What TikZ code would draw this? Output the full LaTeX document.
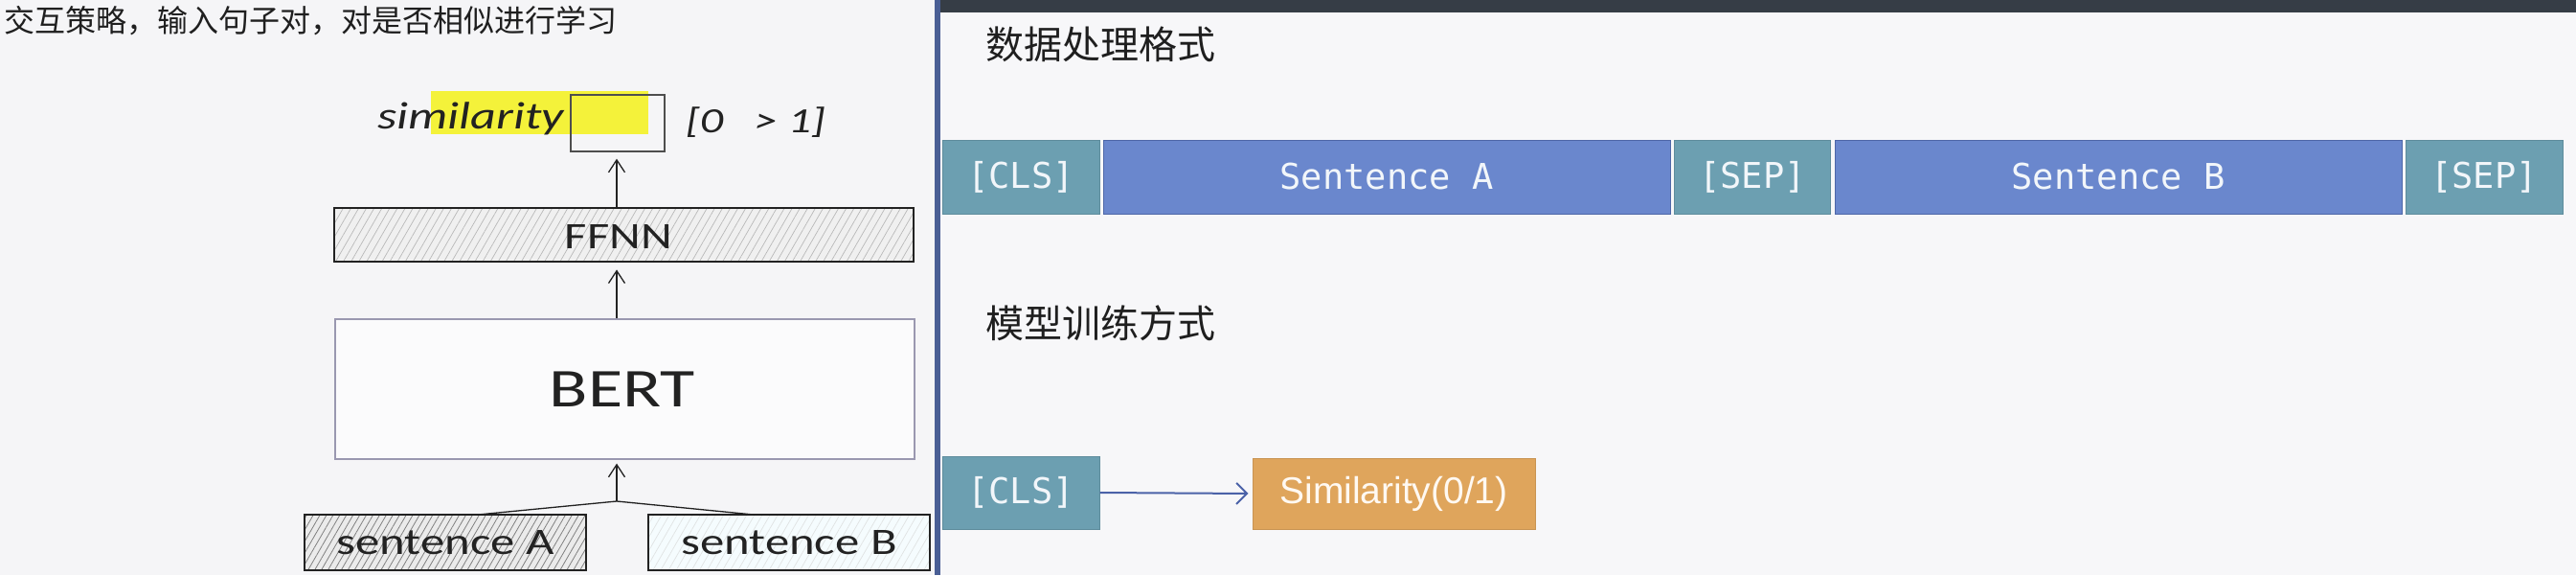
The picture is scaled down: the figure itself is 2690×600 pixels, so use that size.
\documentclass[tikz,border=0pt]{standalone}
\usepackage{fontspec}
\newfontfamily\cjk{Noto Sans CJK SC}
\newfontfamily\hand[FakeStretch=1.3]{Carlito}
\newfontfamily\mono{DejaVu Sans Mono}
\newfontfamily\arialf{Liberation Sans}
\usetikzlibrary{arrows.meta,patterns.meta}
\definecolor{leftbg}{HTML}{F5F5F7}
\definecolor{rightbg}{HTML}{F7F7F9}
\definecolor{divider}{HTML}{4A5F95}
\definecolor{topbar}{HTML}{363D46}
\definecolor{tealtok}{HTML}{6C9FB1}
\definecolor{tealedge}{HTML}{5E8C9C}
\definecolor{bluetok}{HTML}{6A87CD}
\definecolor{blueedge}{HTML}{4E67A8}
\definecolor{orangetok}{HTML}{DFA55C}
\definecolor{arrowblue}{HTML}{4B62A8}
\definecolor{hl}{HTML}{F4F23A}
\definecolor{ink}{HTML}{222222}
\definecolor{bertedge}{HTML}{9A98B0}
\definecolor{tokfont}{HTML}{F2F6FA}
\begin{document}
\begin{tikzpicture}[x=1pt,y=-1pt,
  handtxt/.style={text=ink, inner sep=0pt},
  layerbox/.style={draw=ink, line width=1.4pt, inner sep=0pt, anchor=center},
  ffnnfill/.style={preaction={fill=black!6}, pattern={Lines[angle=60,distance=7pt,line width=0.7pt]}, pattern color=black!28},
  safill/.style={preaction={fill=black!8}, pattern={Lines[angle=60,distance=6pt,line width=0.8pt]}, pattern color=black!50},
  sbfill/.style={preaction={fill=cyan!4!white}, pattern={Lines[angle=60,distance=7pt,line width=0.7pt]}, pattern color=cyan!10!black!12},
  arr/.style={draw=ink, line width=1.3pt, -{Straight Barb[length=13pt,width=17pt,line width=1.3pt]}},
  tok/.style={inner sep=0pt, anchor=center, minimum height=77pt, text=tokfont,
    font=\mono\fontsize{37pt}{42pt}\selectfont, line width=1pt},
  clstok/.style={tok, fill=tealtok, draw=tealedge, minimum width=164pt},
  septok/.style={tok, fill=tealtok, draw=tealedge, minimum width=163pt},
  senttok/.style={tok, fill=bluetok, draw=blueedge, minimum width=592pt},
  heading/.style={anchor=west, inner sep=0pt, text=black!88, font=\cjk\fontsize{40pt}{46pt}\selectfont}
]
\useasboundingbox (0,0) rectangle (2690,600);
% backgrounds
\fill[leftbg] (0,0) rectangle (976,600);
\fill[rightbg] (976,0) rectangle (2690,600);
\fill[topbar] (976,0) rectangle (2690,13);
\fill[divider] (976,0) rectangle (982,600);

% ---------- left panel ----------
\node[anchor=west, inner sep=0pt, text=black!88, font=\cjk\fontsize{32pt}{36pt}\selectfont]
  (title) at (4,22) {交互策略，输入句子对，对是否相似进行学习};

\fill[hl] (450,95) rectangle (677,140);
\node[draw=ink!80, line width=1.3pt, inner sep=0pt, minimum width=98pt, minimum height=59pt]
  (simbox) at (645,128.5) {};
\node[handtxt, anchor=east, font=\hand\itshape\fontsize{40pt}{44pt}\selectfont]
  (simtxt) at (589,124) {similarity};
\node[handtxt, anchor=west, font=\hand\itshape\fontsize{37pt}{42pt}\selectfont]
  (range) at (716,128) {[0 \ \ > 1]};

\node[layerbox, ffnnfill, minimum width=605pt, minimum height=56pt] (ffnn) at (651.5,245) {};
\node[handtxt, font=\hand\fontsize{39pt}{44pt}\selectfont] (ffnntxt) at (646,247) {FFNN};

\node[layerbox, draw=bertedge, line width=1.2pt, fill=white!60!leftbg, minimum width=605pt, minimum height=146pt]
  (bert) at (652.5,406) {};
\node[handtxt, font=\hand\fontsize{57pt}{62pt}\selectfont] (berttxt) at (650,406) {BERT};

\node[layerbox, safill, minimum width=294pt, minimum height=58pt] (sa) at (465,566) {};
\node[handtxt, font=\hand\fontsize{39pt}{44pt}\selectfont] (satxt) at (465,566) {sentence A};
\node[layerbox, sbfill, minimum width=294pt, minimum height=58pt] (sb) at (824,566) {};
\node[handtxt, font=\hand\fontsize{39pt}{44pt}\selectfont] (sbtxt) at (824,566) {sentence B};

\coordinate (m) at (644,523);
\coordinate (satop) at (499,537);
\coordinate (sbtop) at (787,537);
\draw[ink, line width=1.3pt] (satop) -- (m) -- (sbtop);
\draw[arr, shorten >=4pt] (m) -- (bert.south -| m);
\draw[arr, shorten >=8pt] (bert.north -| m) -- (ffnn.south -| m);
\draw[arr, shorten >=7pt] (ffnn.north -| m) -- (simbox.south -| m);

% ---------- right panel ----------
\node[heading] (h1) at (1029,46) {数据处理格式};
\node[heading] (h2) at (1029,337) {模型训练方式};

\node[clstok] (cls1) at (1066,184.5) {[CLS]};
\node[senttok] (senta) at (1448,184.5) {Sentence A};
\node[septok] (sep1) at (1830,184.5) {[SEP]};
\node[senttok] (sentb) at (2212,184.5) {Sentence B};
\node[clstok] (sep2) at (2594,184.5) {[SEP]};

\node[clstok, minimum height=76pt] (cls2) at (1066,514) {[CLS]};
\node[inner sep=0pt, anchor=center, fill=orangetok, draw=orangetok!90!black, line width=1pt,
  minimum width=295pt, minimum height=74pt, text=white!95!orange,
  font=\arialf\fontsize{39pt}{44pt}\selectfont] (sim) at (1455.5,515) {Similarity(0/1)};
\draw[draw=arrowblue, line width=2pt, -{Straight Barb[length=11pt,width=22pt,line width=2pt]}, shorten >=4pt]
  (cls2.east) -- (sim.west);
\end{tikzpicture}
\end{document}
